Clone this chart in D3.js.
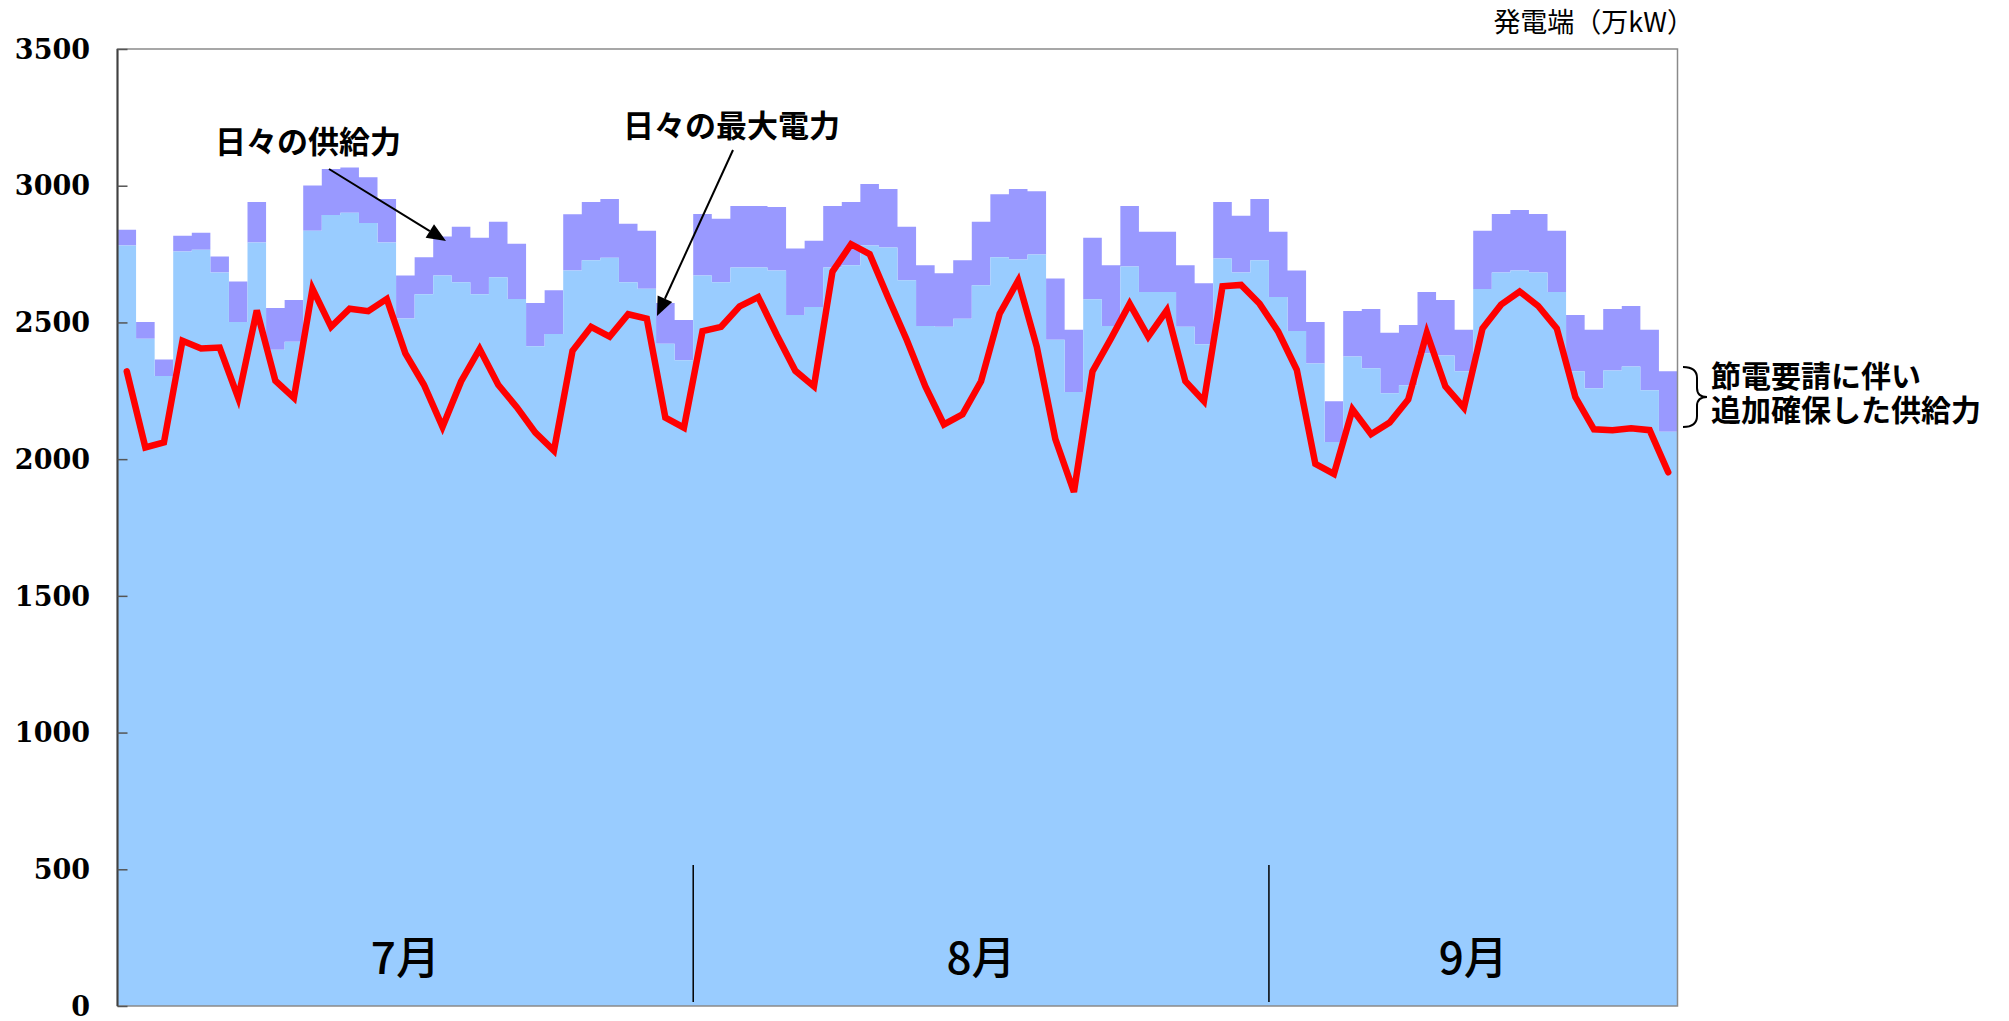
<!DOCTYPE html>
<html><head><meta charset="utf-8">
<script src="https://cdn.jsdelivr.net/npm/d3@7/dist/d3.min.js"></script>
<style>body{margin:0;background:#fff}svg{display:block}</style>
</head><body><svg id="c" width="2009" height="1021"></svg>
<script>
// ---- data ----
const months = ["7月", "8月", "9月"];
const monthLengths = [31, 31, 22];
const categories = [];
months.forEach((m, i) => { for (let d = 1; d <= monthLengths[i]; d++) categories.push((7 + i) + "/" + d); });

// total supply incl. additional supply (purple top), 万kW
const supplyTotal = [2839,2502,2364,2817,2828,2741,2650,2940,2553,2582,3001,3061,3067,3031,2951,2672,2738,2814,2850,2810,2868,2788,2571,2618,2896,2940,2951,2861,2835,2571,2509,
2897,2879,2926,2926,2922,2770,2799,2926,2940,3006,2988,2850,2709,2680,2727,2868,2969,2988,2980,2661,2473,2810,2709,2926,2832,2832,2709,2643,2940,2890,2951,
2832,2690,2502,2212,2542,2549,2462,2491,2611,2582,2473,2835,2897,2911,2897,2835,2527,2473,2549,2560,2473,2321];
// supply without the additional part (light blue top)
const supplyBase = [2781,2440,2304,2759,2766,2683,2502,2792,2400,2429,2835,2893,2901,2864,2792,2514,2603,2672,2647,2603,2665,2586,2413,2458,2690,2727,2737,2647,2623,2422,2362,
2672,2647,2701,2701,2690,2527,2556,2701,2709,2781,2774,2654,2487,2484,2513,2636,2738,2730,2748,2437,2246,2585,2487,2705,2611,2611,2484,2420,2734,2683,2727,
2593,2469,2350,2063,2375,2332,2241,2270,2387,2379,2321,2622,2683,2690,2683,2611,2321,2259,2324,2339,2252,2100];
// daily peak demand (red line)
const peakDemand = [2321,2043,2061,2433,2405,2408,2224,2544,2287,2224,2623,2484,2550,2541,2586,2387,2272,2118,2284,2403,2272,2190,2097,2031,2396,2484,2448,2530,2514,2152,2115,
2468,2484,2559,2593,2454,2323,2266,2686,2786,2750,2590,2436,2266,2127,2164,2285,2532,2653,2411,2073,1880,2321,2442,2568,2448,2544,2285,2212,2632,2637,2568,
2466,2327,1983,1946,2182,2091,2134,2218,2462,2266,2188,2478,2565,2613,2560,2478,2227,2109,2106,2113,2106,1952];
const yTicks = [0, 500, 1000, 1500, 2000, 2500, 3000, 3500];

// ---- layout ----
const L = 117.5, R = 1677.5, T = 49, B = 1006;
const svg = d3.select("#c");
const x = d3.scaleBand().domain(categories).range([L, R]).padding(0);
const y = d3.scaleLinear().domain([0, 3500]).range([B, T]);
const bw = x.bandwidth();

const pts = categories.map((c, i) => ({ x: x(c), t: supplyTotal[i], b: supplyBase[i] }));
pts.push({ x: x(categories[categories.length - 1]) + bw, t: supplyTotal[supplyTotal.length - 1], b: supplyBase[supplyBase.length - 1] });

// purple: additional supply
svg.append("path").datum(pts)
  .attr("fill", "#9999FF")
  .attr("d", d3.area().curve(d3.curveStepAfter).x(d => d.x).y0(d => y(d.b)).y1(d => y(d.t)));
// light blue: base supply
svg.append("path").datum(pts)
  .attr("fill", "#99CCFF")
  .attr("d", d3.area().curve(d3.curveStepAfter).x(d => d.x).y0(y(0)).y1(d => y(d.b)));

// frame
svg.append("rect").attr("x", L).attr("y", T).attr("width", R - L).attr("height", B - T)
  .attr("fill", "none").attr("stroke", "#8a8a8a").attr("stroke-width", 1.5);
svg.append("line").attr("x1", L).attr("x2", L).attr("y1", T).attr("y2", B)
  .attr("stroke", "#404040").attr("stroke-width", 2);

// y axis ticks (inward) and labels
const yAxis = d3.axisRight(y).tickValues(yTicks).tickSize(10).tickFormat("");
const ga = svg.append("g").attr("transform", `translate(${L},0)`).call(yAxis);
ga.select(".domain").remove();
ga.selectAll(".tick line").attr("stroke", "#555").attr("stroke-width", 1.5);
svg.append("g").selectAll("text").data(yTicks).join("text")
  .attr("x", 90).attr("y", d => y(d)).attr("dy", "0.36em")
  .attr("text-anchor", "end")
  .attr("font-family", "'DejaVu Serif', serif").attr("font-weight", "bold").attr("font-size", 27)
  .attr("fill", "#000").text(d => d);

// month separators and labels
let start = 0;
const monthInfo = months.map((m, i) => { const s = start; start += monthLengths[i]; return { m, s, e: start }; });
svg.append("g").selectAll("line").data(monthInfo.slice(1)).join("line")
  .attr("x1", d => x(categories[d.s])).attr("x2", d => x(categories[d.s]))
  .attr("y1", 865).attr("y2", 1002).attr("stroke", "#000").attr("stroke-width", 1.5);
svg.append("g").selectAll("text").data(monthInfo).join("text")
  .attr("x", d => (x(categories[d.s]) + x(categories[d.e - 1]) + bw) / 2)
  .attr("y", 974)
  .attr("text-anchor", "middle")
  .attr("font-family", "'Noto Sans CJK JP', sans-serif").attr("font-weight", 500).attr("font-size", 44)
  .attr("fill", "#000").text(d => d.m);

// peak demand line
svg.append("path").datum(peakDemand)
  .attr("fill", "none").attr("stroke", "#FF0000").attr("stroke-width", 6.5)
  .attr("stroke-linejoin", "miter").attr("stroke-linecap", "round")
  .attr("d", d3.line().x((d, i) => x(categories[i]) + bw / 2).y(d => y(d)));

// unit label
svg.append("text").attr("x", 1694).attr("y", 32).attr("text-anchor", "end")
  .attr("font-family", "'Noto Sans CJK JP', sans-serif").attr("font-size", 27)
  .attr("fill", "#000").text("発電端（万kW）");

// annotations
const jp = "'Noto Sans CJK JP', sans-serif";
function arrow(x1, y1, x2, y2) {
  const a = Math.atan2(y2 - y1, x2 - x1), len = 19, hw = 8;
  const bx = x2 - len * Math.cos(a), by = y2 - len * Math.sin(a);
  svg.append("line").attr("x1", x1).attr("y1", y1).attr("x2", bx).attr("y2", by)
    .attr("stroke", "#000").attr("stroke-width", 2);
  svg.append("path").attr("fill", "#000").attr("d",
    `M${x2},${y2}L${bx + hw * Math.sin(a)},${by - hw * Math.cos(a)}L${bx - hw * Math.sin(a)},${by + hw * Math.cos(a)}Z`);
}
svg.append("text").attr("x", 215).attr("y", 153)
  .attr("font-family", jp).attr("font-weight", "bold").attr("font-size", 31).text("日々の供給力");
svg.append("text").attr("x", 623).attr("y", 137)
  .attr("font-family", jp).attr("font-weight", "bold").attr("font-size", 31).text("日々の最大電力");
arrow(329, 169, 446, 241);
arrow(733, 150, 657, 316);

// brace + side note
svg.append("path").attr("fill", "none").attr("stroke", "#000").attr("stroke-width", 2)
  .attr("d", "M1683,367 Q1697,367 1697,378 L1697,388 Q1697,397 1707,397 Q1697,397 1697,406 L1697,416 Q1697,427 1683,427");
const noteFont = "'Liberation Sans', 'Noto Sans CJK JP', sans-serif";
svg.append("text").attr("x", 1711).attr("y", 387)
  .attr("font-family", noteFont).attr("font-weight", "bold").attr("font-size", 30).text("節電要請に伴い");
svg.append("text").attr("x", 1711).attr("y", 421)
  .attr("font-family", noteFont).attr("font-weight", "bold").attr("font-size", 30).text("追加確保した供給力");
</script></body></html>
